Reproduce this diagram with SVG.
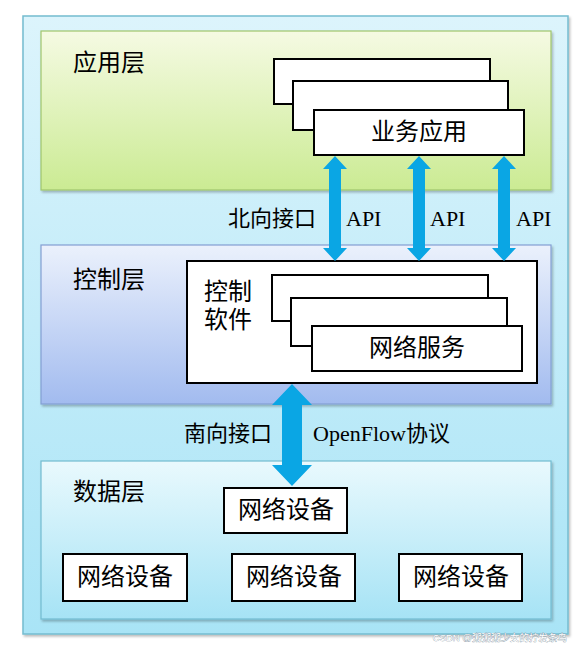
<svg xmlns="http://www.w3.org/2000/svg" width="585" height="650" viewBox="0 0 585 650">
<defs>
<linearGradient id="gOuter" x1="0" y1="0" x2="0" y2="1"><stop offset="0" stop-color="#dcf4fc"/><stop offset="1" stop-color="#a9e4f6"/></linearGradient>
<linearGradient id="gApp" x1="0" y1="0" x2="0" y2="1"><stop offset="0" stop-color="#f5fae3"/><stop offset="1" stop-color="#cbeb93"/></linearGradient>
<linearGradient id="gCtl" x1="0" y1="0" x2="0" y2="1"><stop offset="0" stop-color="#ebf1fc"/><stop offset="1" stop-color="#a2bbef"/></linearGradient>
<linearGradient id="gData" x1="0" y1="0" x2="0" y2="1"><stop offset="0" stop-color="#e9f9fd"/><stop offset="1" stop-color="#a6e3f5"/></linearGradient>
<filter id="sh" x="-5%" y="-5%" width="110%" height="115%"><feDropShadow dx="1.5" dy="2" stdDeviation="1.2" flood-color="#000" flood-opacity="0.25"/></filter>
</defs>
<style>
.box{fill:#fff;stroke:#000;stroke-width:2}
.t{font-family:"Liberation Serif","Noto Sans CJK SC",serif;fill:#000;dominant-baseline:central}
.big{font-size:24px}
.mid{font-size:22px}
.arr{fill:#0aa6e4}
</style>
<g id="outer"><rect x="23" y="16" width="545" height="618" fill="url(#gOuter)" stroke="#74bcd0" stroke-width="1.5" filter="url(#sh)"/></g>
<g id="app-layer">
<rect x="41" y="31" width="510" height="159" fill="url(#gApp)" stroke="#9fc56c" stroke-width="1.2" filter="url(#sh)"/>
<text class="t big" x="73" y="63">应用层</text>
</g>
<g id="app-stack">
<rect class="box" x="274" y="59" width="216" height="45"/>
<rect class="box" x="293" y="81" width="215" height="49"/>
<rect class="box" x="314" y="110" width="210" height="45"/>
<text class="t big" x="419" y="132" text-anchor="middle">业务应用</text>
</g>
<g id="ctl-layer">
<rect x="41" y="245" width="510" height="159" fill="url(#gCtl)" stroke="#839fd2" stroke-width="1.2" filter="url(#sh)"/>
<text class="t big" x="73" y="280">控制层</text>
</g>
<g id="ctl-software">
<rect class="box" x="187" y="261" width="350" height="122"/>
<text class="t big" x="204" y="292">控制</text>
<text class="t big" x="204" y="320">软件</text>
</g>
<g id="ctl-stack">
<rect class="box" x="272" y="275" width="216" height="46"/>
<rect class="box" x="291" y="298" width="216" height="48"/>
<rect class="box" x="312" y="326" width="210" height="45"/>
<text class="t big" x="417" y="348" text-anchor="middle">网络服务</text>
</g>
<g id="data-layer">
<rect x="41" y="461" width="510" height="158" fill="url(#gData)" stroke="#72bbd0" stroke-width="1.2" filter="url(#sh)"/>
<text class="t big" x="73" y="492">数据层</text>
</g>
<g id="dev-top"><rect class="box" x="224" y="488" width="123" height="45"/><text class="t big" x="286" y="510" text-anchor="middle">网络设备</text></g>
<g id="dev-1"><rect class="box" x="63" y="554" width="124" height="47"/><text class="t big" x="125" y="577" text-anchor="middle">网络设备</text></g>
<g id="dev-2"><rect class="box" x="232" y="554" width="123" height="47"/><text class="t big" x="294" y="577" text-anchor="middle">网络设备</text></g>
<g id="dev-3"><rect class="box" x="399" y="554" width="123" height="47"/><text class="t big" x="461" y="577" text-anchor="middle">网络设备</text></g>
<g id="connectors">
<path class="arr" d="M335 156 L347 169 L341 169 L341 248 L347 248 L335 261 L323 248 L329 248 L329 169 L323 169 Z"/>
<path class="arr" d="M419 156 L431 169 L425 169 L425 248 L431 248 L419 261 L407 248 L413 248 L413 169 L407 169 Z"/>
<path class="arr" d="M504 156 L516 169 L510 169 L510 248 L516 248 L504 261 L492 248 L498 248 L498 169 L492 169 Z"/>
<path class="arr" d="M292 384 L312 405 L302 405 L302 465 L312 465 L292 486 L272 465 L282 465 L282 405 L272 405 Z"/>
</g>
<g id="labels">
<text class="t mid" x="228" y="218">北向接口</text>
<text class="t mid" x="346" y="218">API</text>
<text class="t mid" x="430" y="218">API</text>
<text class="t mid" x="516" y="218">API</text>
<text class="t mid" x="184" y="433">南向接口</text>
<text class="t mid" x="313" y="433">OpenFlow协议</text>
</g>
<text x="567" y="637" text-anchor="end" font-family="Liberation Sans,'Noto Sans CJK SC',sans-serif" font-size="9.5" fill="#ffffff" stroke="#8a9aa6" stroke-width="0.6" paint-order="stroke" dominant-baseline="central">CSDN @粥粥粥少女的拧发条鸟</text>
</svg>
